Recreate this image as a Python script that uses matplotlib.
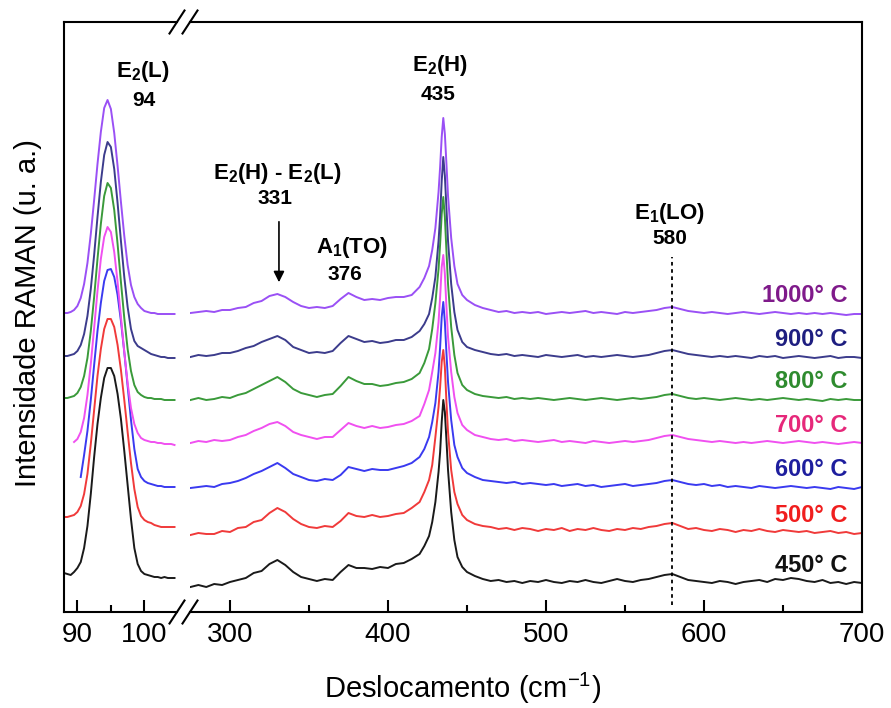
import numpy as np
import matplotlib
matplotlib.use("Agg")
import matplotlib.pyplot as plt

plt.rcParams['font.family'] = ['Liberation Sans', 'DejaVu Sans']
plt.rcParams['mathtext.default'] = 'regular'

# Temperaturas de tratamento (de baixo para cima)
temperaturas = ['450° C', '500° C', '600° C', '700° C', '800° C', '900° C', '1000° C']
cores_linha = ['#1a1a1a', '#f03a3a', '#3a3af0', '#f050f0', '#3a9a3a', '#3c3c8c', '#9a50f5']
cores_texto = ['#111111', '#f01e1e', '#1e1e9e', '#e6287a', '#2e8b2e', '#1e1e80', '#7f1a8a']
deslocamento_vertical = [0, 50, 95, 140, 183, 226, 270]

# Modos vibracionais (cm-1)
modos = ['E$_2$(L)', 'E$_2$(H) - E$_2$(L)', 'A$_1$(TO)', 'E$_2$(H)', 'E$_1$(LO)']
posicoes_modos = [94, 331, 376, 435, 580]

# Trecho 1: região do modo E2(L)
x_baixo = np.arange(88, 104.6, 0.5)
nan = np.nan
i_baixo = [
    [39, 38, 37, 40, 44, 50, 64, 86, 118, 155, 188, 214, 234, 244, 244, 236, 218,
     193, 161, 127, 93, 64, 48, 41, 38, 37, 36, 35, 35, 34, 35, 34, 34, 34],
    [45, 45, 46, 47, 50, 56, 68, 88, 118, 152, 186, 213, 233, 243, 243, 235, 217,
     192, 162, 130, 99, 73, 55, 46, 42, 40, 39, 37, 36, 35, 35, 35, 35, 35],
    [nan, nan, nan, nan, nan, 40, 62, 86, 117, 152, 186, 214, 236, 247, 248, 240, 222,
     196, 165, 131, 97, 68, 48, 40, 36, 34, 33, 32, 31, 31, 30, 30, 30, 30],
    [nan, nan, nan, 30, 33, 40, 54, 77, 108, 144, 181, 213, 235, 245, 240, 220, 190,
     155, 120, 89, 64, 48, 39, 34, 32, 31, 30, 30, 29, 29, 28, 28, 28, 27],
    [31, 31, 32, 33, 36, 42, 53, 71, 98, 132, 170, 205, 233, 246, 241, 219, 185,
     147, 111, 80, 58, 44, 37, 34, 32, 31, 31, 30, 30, 30, 29, 29, 29, 29],
    [30, 30, 31, 32, 35, 41, 52, 70, 97, 131, 169, 204, 231, 244, 239, 217, 183,
     145, 109, 79, 57, 45, 40, 38, 36, 34, 32, 31, 30, 29, 29, 28, 28, 28],
    [29, 29, 30, 32, 36, 44, 58, 79, 108, 142, 178, 210, 234, 242, 233, 209, 176,
     140, 106, 77, 57, 45, 38, 34, 31, 30, 29, 29, 28, 28, 28, 28, 28, 28],
]

# Trecho 2: 275 - 700 cm-1
x_alto = np.r_[np.arange(275, 421, 5),
               [423, 426, 428, 430, 432, 433, 434, 435, 436, 437, 438, 440, 442, 444, 447, 450],
               np.arange(455, 701, 5)]
i_alto = [
    [25, 27, 25, 28, 27, 30, 32, 34, 39, 41, 48, 52, 47, 40, 35, 33, 31, 33, 32, 40,
     47, 44, 44, 43, 45, 44, 48, 49, 53, 58,
     66, 76, 90, 110, 140, 160, 190, 212, 200, 172, 142, 100, 72, 55, 45, 40,
     36, 33, 31, 32, 30, 31, 29, 31, 30, 32, 30, 29, 31, 30, 32, 30, 29, 31, 33, 31,
     30, 32, 33, 35, 37, 38, 35, 32, 31, 30, 29, 31, 30, 28, 30, 31, 32, 30, 33, 32,
     34, 33, 31, 30, 32, 29, 30, 28, 30, 29],
    [27, 29, 28, 28, 31, 30, 34, 35, 40, 42, 49, 54, 50, 43, 38, 35, 34, 36, 35, 41,
     49, 46, 45, 47, 45, 46, 48, 49, 54, 60,
     70, 82, 97, 125, 155, 175, 200, 212, 195, 160, 130, 92, 70, 58, 47, 42,
     38, 36, 35, 33, 34, 32, 34, 33, 31, 33, 32, 34, 31, 33, 32, 34, 32, 31, 33, 32,
     34, 33, 35, 36, 38, 39, 36, 33, 34, 32, 31, 33, 32, 30, 32, 31, 33, 31, 30, 32,
     31, 30, 31, 29, 30, 31, 29, 30, 28, 29],
    [29, 30, 31, 30, 33, 34, 36, 39, 43, 46, 50, 54, 49, 43, 40, 37, 36, 38, 37, 42,
     50, 48, 46, 48, 47, 47, 49, 51, 54, 60,
     68, 80, 95, 114, 145, 170, 200, 215, 195, 164, 135, 97, 72, 60, 49, 44,
     40, 37, 36, 35, 34, 35, 33, 34, 33, 32, 33, 31, 32, 33, 31, 32, 30, 31, 32, 33,
     31, 32, 33, 34, 36, 37, 35, 33, 32, 33, 31, 32, 30, 31, 30, 29, 31, 30, 29, 30,
     31, 30, 29, 30, 29, 28, 30, 29, 28, 30],
    [29, 31, 30, 32, 31, 32, 35, 37, 41, 44, 48, 50, 46, 40, 37, 35, 33, 35, 35, 42,
     49, 46, 44, 46, 44, 45, 47, 48, 51, 56,
     68, 82, 100, 119, 150, 175, 205, 217, 198, 165, 135, 100, 75, 59, 47, 42,
     37, 35, 33, 32, 33, 31, 32, 31, 30, 31, 32, 30, 31, 30, 29, 31, 30, 29, 30, 31,
     30, 31, 32, 34, 36, 37, 35, 33, 32, 31, 30, 31, 30, 29, 30, 29, 30, 31, 30, 29,
     30, 31, 30, 29, 30, 29, 28, 29, 30, 29],
    [29, 31, 29, 30, 32, 31, 34, 36, 40, 44, 48, 52, 47, 40, 36, 34, 32, 34, 35, 43,
     52, 48, 45, 45, 43, 44, 46, 47, 50, 56,
     66, 80, 100, 126, 160, 185, 215, 232, 212, 178, 145, 102, 74, 56, 44, 39,
     35, 33, 32, 31, 32, 30, 31, 30, 31, 30, 29, 30, 31, 30, 29, 30, 31, 30, 29, 30,
     31, 30, 31, 32, 34, 35, 33, 31, 30, 31, 30, 29, 30, 31, 30, 29, 30, 29, 30, 31,
     30, 29, 30, 29, 28, 30, 29, 30, 29, 29],
    [29, 31, 30, 31, 33, 33, 35, 38, 40, 44, 47, 50, 46, 39, 36, 33, 34, 33, 35, 43,
     50, 47, 44, 45, 43, 44, 46, 46, 49, 55,
     62, 72, 88, 109, 145, 170, 205, 229, 210, 178, 145, 102, 74, 56, 44, 39,
     36, 34, 32, 31, 32, 30, 31, 30, 29, 31, 30, 29, 30, 31, 29, 30, 29, 30, 31, 30,
     29, 30, 31, 33, 35, 36, 34, 32, 31, 30, 29, 30, 29, 30, 29, 28, 30, 29, 30, 28,
     29, 30, 29, 28, 29, 30, 28, 29, 29, 28],
    [29, 30, 31, 30, 32, 32, 34, 35, 39, 41, 46, 48, 45, 40, 36, 34, 35, 34, 36, 43,
     49, 45, 42, 43, 42, 44, 45, 45, 47, 55,
     64, 76, 92, 114, 150, 175, 205, 224, 208, 178, 146, 104, 76, 58, 47, 42,
     37, 34, 32, 30, 31, 29, 30, 29, 30, 28, 29, 30, 29, 30, 31, 29, 30, 29, 28, 30,
     29, 30, 31, 32, 34, 35, 33, 31, 30, 29, 30, 29, 28, 29, 30, 29, 28, 29, 30, 29,
     28, 29, 28, 29, 28, 29, 28, 27, 28, 28],
]

W, H = 891, 708
fig = plt.figure(figsize=(W / 100, H / 100), dpi=100)
ax1 = fig.add_axes([64 / W, 96 / H, 113 / W, 590 / H])
ax2 = fig.add_axes([190 / W, 96 / H, 672 / W, 590 / H])

for k in range(len(temperaturas)):
    off = deslocamento_vertical[k]
    ax1.plot(x_baixo, np.array(i_baixo[k]) + off, color=cores_linha[k], lw=1.4)
    ax2.plot(x_alto, np.array(i_alto[k]) + off, color=cores_linha[k], lw=1.4)
    ax2.text(691, off + 47, temperaturas[k], ha='right', va='center',
             color=cores_texto[k], fontsize=17, fontweight='bold')

ax1.set_xlim(88, 104.87)
ax2.set_xlim(274.7, 700)
for ax in (ax1, ax2):
    ax.set_ylim(0, 590)
    ax.set_yticks([])
    for s in ax.spines.values():
        s.set_linewidth(1.5)
    ax.tick_params(axis='x', which='both', direction='in', top=False,
                   labelsize=20, pad=7, width=1.5)
    ax.tick_params(axis='x', which='major', length=8.5)
    ax.tick_params(axis='x', which='minor', length=5)
ax1.spines['right'].set_visible(False)
ax2.spines['left'].set_visible(False)
ax1.set_xticks([90, 100])
ax1.set_xticks([95], minor=True)
ax2.set_xticks(np.arange(300, 701, 100))
ax2.set_xticks(np.arange(350, 701, 100), minor=True)

# marcas de quebra do eixo
def quebra(ax, xa, largura_px):
    dx = 7.5 / largura_px
    dy = 11.5 / 590
    for ya in (0, 1):
        ax.plot([xa - dx, xa + dx], [ya - dy, ya + dy], transform=ax.transAxes,
                color='k', lw=1.5, clip_on=False)

quebra(ax1, 1, 113)
quebra(ax2, 0, 672)

# identificação dos modos
rot = dict(ha='center', va='center', fontsize=16, fontweight='bold')
num = dict(ha='center', va='center', fontsize=15, fontweight='bold')
ax1.text(99.7, 540, modos[0], **rot)
ax1.text(99.9, 512, str(posicoes_modos[0]), **num)
ax2.text(330, 439, modos[1], **rot)
ax2.text(328.5, 414, str(posicoes_modos[1]), **num)
ax2.annotate('', xy=(posicoes_modos[1], 327), xytext=(posicoes_modos[1], 393),
             arrowprops=dict(arrowstyle='-|>', color='k', lw=1.2, mutation_scale=16))
ax2.text(377.5, 365, modos[2], **rot)
ax2.text(373, 337, str(posicoes_modos[2]), **num)
ax2.text(433, 547, modos[3], **rot)
ax2.text(432, 517, str(posicoes_modos[3]), **num)
ax2.text(578, 399, modos[4], **rot)
ax2.text(578.5, 374, str(posicoes_modos[4]), **num)
ax2.plot([posicoes_modos[4]] * 2, [7, 355], color='k', lw=1.3, ls=(0, (2, 2)))

fig.text(463 / W, 1 - 688 / H, 'Deslocamento (cm$^{-1}$)', ha='center', va='center', fontsize=21)
fig.text(28 / W, 1 - 313 / H, 'Intensidade RAMAN (u. a.)', rotation=90,
         ha='center', va='center', fontsize=21)

fig.savefig('out.png', dpi=100)
